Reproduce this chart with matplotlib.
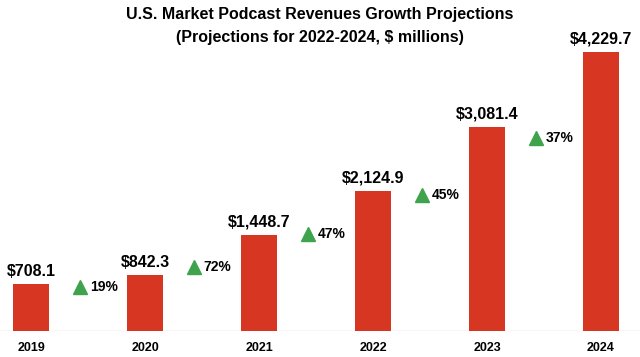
import matplotlib.pyplot as plt

years = ['2019', '2020', '2021', '2022', '2023', '2024']
revenues = [708.1, 842.3, 1448.7, 2124.9, 3081.4, 4229.7]
growth = ['19%', '72%', '47%', '45%', '37%']
# label height relative to the bar on the left
growth_level = [0.94, 1.15, 1.01, 0.97, 0.95]

plt.rcParams['font.family'] = ['Liberation Sans', 'DejaVu Sans']

fig = plt.figure(figsize=(6.4, 3.57), dpi=100)
ax = fig.add_axes([0, 0.0728, 1, 0.888])

x = list(range(len(years)))
ax.bar(x, revenues, width=0.31, color='#d73623', zorder=2)

for i, v in enumerate(revenues):
    ax.annotate('${:,.1f}'.format(v), (i, v), xytext=(0, 4), textcoords='offset points',
                ha='center', va='bottom', fontsize=11.5, fontweight='bold')

for i, g in enumerate(growth):
    y = revenues[i] * growth_level[i]
    ax.plot(i + 0.43, y, marker='^', markersize=10.5, color='#3fa34d', linestyle='none')
    ax.text(i + 0.515, y, g, ha='left', va='center', fontsize=10, fontweight='bold')

ax.axhline(0, color='#d9d9d9', linewidth=1, zorder=1)
ax.set_xlim(-0.272, 5.342)
ax.set_ylim(0, 4800)
ax.set_xticks(x)
ax.set_xticklabels(years, fontsize=9, fontweight='bold')
ax.tick_params(axis='x', length=0, pad=8)
ax.set_yticks([])
for s in ax.spines.values():
    s.set_visible(False)

fig.text(0.5, 0.958, 'U.S. Market Podcast Revenues Growth Projections', ha='center', va='center',
         fontsize=11.5, fontweight='bold')
fig.text(0.5, 0.896, '(Projections for 2022-2024, $ millions)', ha='center', va='center',
         fontsize=11.5, fontweight='bold')

fig.savefig('out.png', dpi=100)
